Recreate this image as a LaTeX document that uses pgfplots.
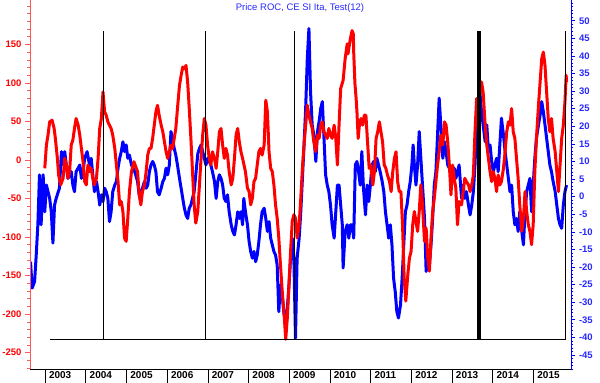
\documentclass[border=0pt]{standalone}
\usepackage{fontspec}
\setmainfont{Liberation Sans}
\usepackage{pgfplots}
\pgfplotsset{compat=1.18}
\definecolor{myred}{RGB}{255,0,0}
\definecolor{axred}{RGB}{255,90,90}
\definecolor{myblue}{RGB}{0,0,255}
\definecolor{lblblue}{RGB}{40,40,255}
\pgfplotstableread{
x y
2002.64 -18.5
2002.68 -26.0
2002.74 -24.1
2002.78 -16.6
2002.82 -8.0
2002.86 6.2
2002.90 -8.0
2002.95 6.2
2002.99 -4.3
2003.03 3.3
2003.07 1.4
2003.11 -0.5
2003.15 -4.3
2003.19 -13.2
2003.23 -2.4
2003.27 -0.5
2003.35 2.4
2003.40 12.8
2003.44 9.0
2003.48 12.8
2003.52 9.0
2003.56 5.2
2003.64 7.1
2003.68 3.3
2003.72 1.4
2003.76 7.1
2003.81 8.1
2003.85 9.0
2003.89 5.2
2003.93 7.1
2003.97 10.9
2004.03 12.8
2004.09 9.0
2004.13 10.9
2004.17 6.2
2004.21 1.4
2004.26 4.3
2004.30 1.4
2004.34 -2.4
2004.38 0.5
2004.42 -1.4
2004.46 2.4
2004.50 1.4
2004.54 -0.5
2004.58 -7.1
2004.62 -4.3
2004.66 1.4
2004.71 3.3
2004.75 4.3
2004.79 8.1
2004.83 10.9
2004.87 12.8
2004.91 15.6
2004.95 12.8
2004.99 14.7
2005.03 10.9
2005.07 11.8
2005.12 9.0
2005.20 7.1
2005.27 4.3
2005.31 0.5
2005.35 1.4
2005.39 2.4
2005.44 4.3
2005.48 2.4
2005.52 3.3
2005.56 7.1
2005.60 9.0
2005.64 10.0
2005.68 9.0
2005.72 7.1
2005.76 1.4
2005.80 0.5
2005.85 2.4
2005.89 4.3
2005.93 5.2
2005.97 8.1
2006.01 6.2
2006.05 9.0
2006.09 18.5
2006.13 16.6
2006.17 13.7
2006.21 11.8
2006.25 9.0
2006.30 5.2
2006.34 2.4
2006.38 -0.5
2006.42 -3.3
2006.46 -5.2
2006.50 -6.2
2006.54 -3.3
2006.58 -2.4
2006.62 -0.5
2006.66 1.4
2006.70 6.2
2006.75 12.2
2006.79 13.7
2006.83 14.7
2006.87 12.8
2006.91 10.9
2006.95 9.0
2006.99 10.9
2007.03 10.0
2007.07 9.0
2007.11 7.1
2007.16 4.3
2007.20 -0.5
2007.24 4.3
2007.28 6.2
2007.32 5.2
2007.36 3.3
2007.40 -0.5
2007.44 -1.4
2007.48 0.5
2007.52 -4.3
2007.57 -8.0
2007.61 -9.9
2007.65 -10.9
2007.69 -8.0
2007.73 -4.3
2007.77 -6.2
2007.81 -4.3
2007.85 -8.0
2007.88 -0.5
2007.92 -4.3
2007.97 -8.0
2008.01 -12.8
2008.05 -15.6
2008.09 -17.5
2008.13 -15.6
2008.17 -18.5
2008.21 -16.6
2008.25 -12.8
2008.29 -8.0
2008.33 -4.3
2008.38 -3.3
2008.42 -6.2
2008.46 -9.9
2008.50 -7.1
2008.54 -11.8
2008.58 -13.7
2008.62 -15.6
2008.66 -16.6
2008.70 -19.4
2008.74 -32.7
2008.78 -25.1
2008.83 -28.9
2008.87 -33.6
2008.91 -34.5
2008.95 -31.7
2008.99 -25.1
2009.03 -17.5
2009.07 -11.8
2009.11 -17.5
2009.15 -40.2
2009.19 -17.5
2009.24 -11.8
2009.28 -4.3
2009.32 5.2
2009.36 14.7
2009.40 25.1
2009.44 39.3
2009.48 47.8
2009.52 29.8
2009.56 20.4
2009.60 17.5
2009.65 10.0
2009.69 18.5
2009.73 21.3
2009.77 25.1
2009.81 27.0
2009.85 16.6
2009.89 6.2
2009.93 3.3
2009.97 1.4
2010.01 -2.4
2010.05 -8.0
2010.10 -11.8
2010.14 -4.3
2010.18 3.3
2010.22 3.3
2010.26 -2.4
2010.30 -8.0
2010.32 -20.3
2010.37 -9.9
2010.42 -8.0
2010.46 -11.8
2010.50 -8.0
2010.54 -8.0
2010.58 -11.8
2010.62 9.0
2010.66 10.0
2010.70 7.1
2010.74 3.3
2010.78 12.8
2010.82 2.4
2010.87 -5.2
2010.91 3.3
2010.95 -1.4
2010.99 3.3
2011.03 9.0
2011.07 10.0
2011.11 7.1
2011.15 10.9
2011.19 9.0
2011.23 7.1
2011.28 4.3
2011.32 1.4
2011.36 -4.3
2011.40 -8.0
2011.44 -11.8
2011.48 -8.0
2011.52 -13.7
2011.56 -23.2
2011.60 -27.0
2011.64 -32.7
2011.68 -34.5
2011.73 -30.8
2011.77 -23.2
2011.81 -13.7
2011.85 -4.3
2011.89 -2.4
2011.93 1.4
2011.97 4.3
2012.01 9.0
2012.04 14.7
2012.07 9.0
2012.11 3.3
2012.15 9.0
2012.19 18.5
2012.23 10.9
2012.27 3.3
2012.32 -6.2
2012.36 -21.3
2012.40 -17.5
2012.44 -19.4
2012.48 -13.7
2012.52 -6.2
2012.56 3.3
2012.60 7.1
2012.64 17.5
2012.68 28.0
2012.72 20.4
2012.77 10.9
2012.81 15.6
2012.85 12.8
2012.89 9.0
2012.93 8.1
2012.97 6.2
2013.01 4.3
2013.05 8.1
2013.09 5.2
2013.13 7.1
2013.17 9.0
2013.23 -0.5
2013.27 3.3
2013.31 -0.5
2013.35 1.4
2013.40 -2.4
2013.44 -5.2
2013.48 -2.4
2013.52 1.4
2013.56 9.0
2013.60 20.4
2013.64 27.0
2013.68 29.8
2013.72 24.1
2013.76 20.4
2013.81 15.6
2013.85 20.4
2013.89 12.8
2013.93 14.7
2013.97 10.0
2014.01 7.1
2014.05 9.0
2014.09 10.9
2014.13 7.1
2014.17 14.7
2014.21 22.3
2014.26 17.5
2014.30 12.8
2014.34 9.0
2014.38 5.2
2014.42 1.4
2014.46 3.3
2014.50 -4.3
2014.54 -8.0
2014.58 -6.2
2014.62 -9.9
2014.66 -4.3
2014.71 -9.9
2014.75 -13.7
2014.79 -4.3
2014.83 1.4
2014.87 3.3
2014.91 5.2
2014.95 -4.3
2014.99 3.3
2015.03 10.9
2015.07 16.6
2015.12 20.4
2015.16 23.2
2015.20 27.0
2015.24 24.1
2015.28 20.4
2015.32 16.6
2015.36 12.8
2015.40 9.0
2015.44 7.1
2015.48 4.3
2015.53 1.4
2015.57 -2.4
2015.61 -6.2
2015.65 -8.0
2015.69 -9.0
2015.73 -2.4
2015.77 1.4
2015.81 3.3
}\bluedata
\pgfplotstableread{
x y
2002.99 -10.8
2003.03 19.4
2003.07 32.3
2003.11 49.5
2003.17 51.6
2003.22 40.9
2003.25 28.0
2003.30 2.1
2003.33 -19.4
2003.38 -32.3
2003.44 -23.7
2003.48 2.1
2003.52 -6.5
2003.56 -23.7
2003.60 -15.1
2003.64 19.4
2003.68 25.8
2003.72 40.9
2003.76 53.8
2003.81 45.2
2003.85 32.3
2003.89 15.0
2003.93 -2.2
2003.97 -28.0
2004.01 -32.3
2004.05 -6.5
2004.09 -15.1
2004.13 -10.8
2004.17 -23.7
2004.21 -32.3
2004.26 -23.7
2004.30 2.1
2004.34 40.9
2004.38 53.8
2004.42 88.3
2004.46 62.4
2004.50 58.1
2004.54 49.5
2004.58 45.2
2004.62 40.9
2004.66 32.3
2004.71 15.0
2004.75 -6.5
2004.79 -28.0
2004.83 -58.2
2004.87 -53.9
2004.91 -66.8
2004.95 -101.2
2004.99 -105.6
2005.03 -75.4
2005.07 -41.0
2005.12 -15.1
2005.18 -2.2
2005.27 -15.1
2005.31 -45.3
2005.35 -58.2
2005.39 -41.0
2005.44 -32.3
2005.48 -15.1
2005.52 6.4
2005.56 15.0
2005.60 15.0
2005.64 28.0
2005.68 45.2
2005.72 62.4
2005.76 71.0
2005.80 58.1
2005.85 45.2
2005.89 36.6
2005.93 23.6
2005.97 10.7
2006.01 2.1
2006.05 10.7
2006.09 19.4
2006.13 15.0
2006.17 28.0
2006.21 40.9
2006.25 66.7
2006.30 96.9
2006.34 109.8
2006.38 120.6
2006.42 118.4
2006.46 122.7
2006.50 101.2
2006.54 66.7
2006.58 28.0
2006.62 -15.1
2006.66 -58.2
2006.70 -81.9
2006.75 -66.8
2006.79 -32.3
2006.83 2.1
2006.87 32.3
2006.91 53.8
2006.95 45.2
2006.99 19.4
2007.03 2.1
2007.07 -6.5
2007.11 10.7
2007.16 2.1
2007.20 -10.8
2007.24 10.7
2007.28 36.6
2007.32 40.9
2007.36 19.4
2007.40 2.1
2007.44 15.0
2007.48 6.4
2007.52 -15.1
2007.57 -32.3
2007.61 -23.7
2007.65 2.1
2007.69 32.3
2007.73 40.9
2007.77 23.6
2007.81 10.7
2007.85 2.1
2007.92 -15.1
2007.97 -36.6
2008.01 -41.0
2008.05 -58.2
2008.09 -49.6
2008.13 -28.0
2008.17 -23.7
2008.21 -6.5
2008.25 10.7
2008.29 15.0
2008.33 6.4
2008.38 19.4
2008.42 77.5
2008.46 62.4
2008.50 10.7
2008.54 -10.8
2008.58 -15.1
2008.62 -32.3
2008.66 -58.2
2008.70 -75.4
2008.74 -101.2
2008.78 -135.7
2008.83 -174.5
2008.87 -200.3
2008.91 -232.6
2008.95 -204.6
2008.99 -161.5
2009.03 -118.5
2009.07 -79.7
2009.11 -71.1
2009.15 -75.4
2009.19 -101.2
2009.24 -84.0
2009.28 -49.6
2009.32 -10.8
2009.36 19.4
2009.40 45.2
2009.44 71.0
2009.48 58.1
2009.52 49.5
2009.56 40.9
2009.60 23.6
2009.65 10.7
2009.69 32.3
2009.73 28.0
2009.77 45.2
2009.81 49.5
2009.85 36.6
2009.89 32.3
2009.93 28.0
2009.97 40.9
2010.01 32.3
2010.05 28.0
2010.10 45.2
2010.14 28.0
2010.18 -6.5
2010.22 45.2
2010.26 92.6
2010.32 103.3
2010.37 131.3
2010.42 150.7
2010.44 137.8
2010.49 155.0
2010.54 167.9
2010.57 163.6
2010.58 140.0
2010.61 99.5
2010.64 79.6
2010.66 62.4
2010.69 28.0
2010.72 45.2
2010.76 53.8
2010.80 45.2
2010.84 58.1
2010.88 58.1
2010.92 23.6
2010.96 -10.8
2011.00 -6.5
2011.05 -32.3
2011.09 -15.1
2011.13 28.0
2011.17 36.6
2011.21 49.5
2011.25 36.6
2011.29 23.6
2011.33 -6.5
2011.37 -10.8
2011.41 -19.4
2011.46 -28.0
2011.50 -41.0
2011.54 -15.1
2011.58 2.1
2011.62 10.7
2011.66 -28.0
2011.70 -41.0
2011.74 -41.0
2011.78 -84.0
2011.82 -152.9
2011.86 -183.1
2011.91 -148.6
2011.95 -127.1
2011.99 -118.5
2012.03 -84.0
2012.07 -66.8
2012.11 -79.7
2012.15 -92.6
2012.19 -66.8
2012.23 -32.3
2012.27 -58.2
2012.32 -105.6
2012.36 -88.3
2012.40 -127.1
2012.44 -144.3
2012.48 -101.2
2012.52 -66.8
2012.56 -49.6
2012.60 -28.0
2012.64 -6.5
2012.68 10.7
2012.72 32.3
2012.77 19.4
2012.81 49.5
2012.85 45.2
2012.89 23.6
2012.93 -6.5
2012.97 -45.3
2013.01 -6.5
2013.05 -23.7
2013.09 -36.6
2013.13 -84.0
2013.17 -53.9
2013.23 -58.2
2013.27 -41.0
2013.31 -23.7
2013.35 -28.0
2013.40 -32.3
2013.44 -41.0
2013.48 -32.3
2013.52 -19.4
2013.56 36.6
2013.60 79.6
2013.64 66.7
2013.68 88.3
2013.72 101.2
2013.76 88.3
2013.81 45.2
2013.85 19.4
2013.89 2.1
2013.93 -15.1
2013.97 -28.0
2014.01 -15.1
2014.05 -23.7
2014.09 -41.0
2014.13 -19.4
2014.17 -32.3
2014.21 -28.0
2014.26 -10.8
2014.30 10.7
2014.34 36.6
2014.38 49.5
2014.42 45.2
2014.46 66.7
2014.50 36.6
2014.54 28.0
2014.58 2.1
2014.62 -23.7
2014.66 -58.2
2014.71 -92.6
2014.75 -75.4
2014.79 -41.0
2014.83 -66.8
2014.87 -84.0
2014.91 -92.6
2014.95 -109.9
2014.99 -84.0
2015.03 -15.1
2015.07 28.0
2015.12 71.0
2015.16 101.2
2015.20 131.3
2015.24 140.0
2015.28 122.7
2015.32 88.3
2015.36 53.8
2015.40 36.6
2015.44 53.8
2015.48 28.0
2015.53 10.7
2015.57 -15.1
2015.61 -41.0
2015.65 -6.5
2015.69 28.0
2015.73 45.2
2015.77 75.3
2015.80 109.8
2015.81 101.2
}\reddata
\begin{document}
\begin{tikzpicture}
\useasboundingbox (0,0) rectangle (600pt,383pt);
% blue, right axis
\begin{axis}[
  at={(30pt,14pt)}, anchor=south west,
  scale only axis, width=541pt, height=369pt,
  xmin=2002.627, xmax=2015.919, ymin=-49.0, ymax=55.9,
  axis x line=none, axis y line*=right,
  y axis line style={myblue, line width=0.8pt, -},
  ytick={-45,-40,...,50},
  minor ytick={-49,-48,...,55},
  tick align=outside,
  major tick length=4.5pt, minor tick length=2.5pt,
  every tick/.style={myblue, line width=0.6pt},
  yticklabel style={text=lblblue, font=\bfseries\fontsize{9.5}{10}\selectfont},
  /pgf/number format/assume math mode=true,
]
\addplot[myblue, line width=3pt, line join=round] table[x=x,y=y] {\bluedata};
\end{axis}
% red, left axis
\begin{axis}[
  at={(30pt,14pt)}, anchor=south west,
  scale only axis, width=541pt, height=369pt,
  xmin=2002.627, xmax=2015.919, ymin=-271.2, ymax=207.6,
  axis x line=none, axis y line*=left,
  y axis line style={axred, line width=0.8pt, -},
  ytick={-250,-200,...,150},
  minor ytick={-270,-260,...,200},
  tick align=outside,
  major tick length=5pt, minor tick length=3pt,
  every tick/.style={axred, line width=0.6pt},
  yticklabel style={text=myred, font=\bfseries\fontsize{9.5}{10}\selectfont},
  /pgf/number format/assume math mode=true,
  clip=false,
]
\addplot[myred, line width=3pt, line join=round] table[x=x,y=y] {\reddata};
\addplot[black, line width=1.2pt] coordinates {(2004.43,-233.5) (2004.43,167.4)};
\addplot[black, line width=1.2pt] coordinates {(2006.93,-233.5) (2006.93,167.4)};
\addplot[black, line width=1.2pt] coordinates {(2009.12,-233.5) (2009.12,167.4)};
\addplot[black, line width=4pt] coordinates {(2013.67,-233.5) (2013.67,167.4)};
\addplot[black, line width=1.2pt] coordinates {(2015.78,-233.5) (2015.78,167.4)};
\addplot[black, line width=1pt] coordinates {(2003.11,-233.5) (2015.78,-233.5)};
\node[text=lblblue, font=\fontsize{9.5}{10}\selectfont] at (rel axis cs:0.4991,0.978) {Price ROC, CE SI Ita, Test(12)};
\end{axis}
% x axis only
\begin{axis}[
  at={(30pt,14pt)}, anchor=south west,
  scale only axis, width=541pt, height=369pt,
  xmin=2002.627, xmax=2015.919, ymin=0, ymax=1,
  axis y line=none, axis x line*=bottom,
  x axis line style={black, line width=0.8pt, -},
  xtick={2003,2004,...,2015},
  xticklabels={2003,2004,2005,2006,2007,2008,2009,2010,2011,2012,2013,2014,2015},
  tick align=outside, major tick length=14pt,
  every tick/.style={black, line width=0.8pt},
  xticklabel style={anchor=north west, font=\bfseries\fontsize{10}{10}\selectfont, xshift=0.3pt, yshift=15pt},
]
\end{axis}
\end{tikzpicture}
\end{document}
